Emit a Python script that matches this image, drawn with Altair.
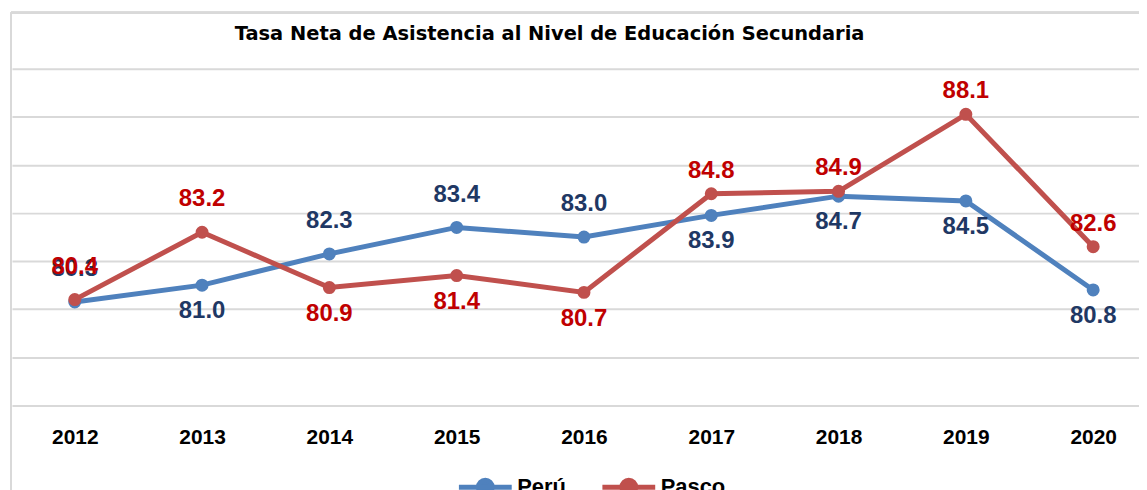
import altair as alt
import pandas as pd

years = ["2012", "2013", "2014", "2015", "2016", "2017", "2018", "2019", "2020"]
peru = [80.3, 81.0, 82.3, 83.4, 83.0, 83.9, 84.7, 84.5, 80.8]
pasco = [80.4, 83.2, 80.9, 81.4, 80.7, 84.8, 84.9, 88.1, 82.6]
series_names = ["Perú", "Pasco"]
line_colors = ["#4F81BD", "#C0504D"]
label_colors = ["#1F3864", "#C00000"]
title_text = "Tasa Neta de Asistencia al Nivel de Educación Secundaria"

df = pd.DataFrame({
    "year": years * 2,
    "value": peru + pasco,
    "serie": [series_names[0]] * len(years) + [series_names[1]] * len(years),
})
df["label"] = df["value"].map(lambda v: f"{v:.1f}")

W, H = 1131, 338
FONT = "Liberation Sans"
GRID = "#D9D9D9"

x = alt.X("year:O", sort=years,
          scale=alt.Scale(type="point", padding=0.4266, align=0.578),
          axis=alt.Axis(title=None, labelAngle=0, labelFont=FONT, labelFontWeight="bold",
                        labelFontSize=21, labelColor="black", labelPadding=21,
                        domain=False, ticks=False, grid=False))
y = alt.Y("value:Q", scale=alt.Scale(domain=[76, 90], nice=False, zero=False),
          axis=alt.Axis(title=None, labels=False, ticks=False, domain=False,
                        values=list(range(76, 91, 2)), gridColor=GRID, gridWidth=2))
legend_path = "M-1,0H1M-0.26,0A0.26,0.26,0,1,1,0.26,0A0.26,0.26,0,1,1,-0.26,0Z"
color = alt.Color("serie:N", scale=alt.Scale(domain=series_names, range=line_colors),
                  legend=alt.Legend(title=None, orient="none", legendX=446, legendY=391,
                                    direction="horizontal", symbolType=legend_path,
                                    symbolSize=2809, symbolStrokeWidth=5,
                                    labelFont=FONT, labelFontSize=22, labelFontWeight="bold",
                                    labelColor="black", labelOffset=3, columnPadding=26))

base = alt.Chart(df)
layers = []
for i, name in enumerate(series_names):
    sel = base.transform_filter(alt.datum.serie == name)
    layers.append(sel.mark_line(strokeWidth=5).encode(x=x, y=y, color=color))
    layers.append(sel.mark_circle(size=170, opacity=1).encode(x=x, y=y, color=color))

# label placement groups: (series, years, dy)
placements = [
    (series_names[0], ["2013", "2017", "2018", "2019", "2020"], 26),
    (series_names[0], ["2012", "2014", "2015", "2016"], -33),
    (series_names[1], ["2014", "2015", "2016"], 27),
    (series_names[1], ["2012", "2013"], -33),
    (series_names[1], ["2017", "2018", "2019", "2020"], -23),
]
for name, yrs, dy in placements:
    i = series_names.index(name)
    cond = "datum.serie == '" + name + "' && indexof(" + str(yrs) + ", datum.year) >= 0"
    layers.append(base.transform_filter(cond).mark_text(
        font=FONT, fontSize=24, fontWeight="bold", color=label_colors[i], dy=dy
    ).encode(x=x, y=y, text="label:N"))

frame_v = alt.Chart(df).mark_rule(color=GRID, strokeWidth=2).encode(
    x=alt.value(-1), y=alt.value(-56), y2=alt.value(700))
frame_h = alt.Chart(df).mark_rule(color=GRID, strokeWidth=2).encode(
    x=alt.value(-1), x2=alt.value(1300), y=alt.value(-56))

chart = alt.layer(frame_v, frame_h, *layers).properties(
    width=W, height=H,
    autosize=alt.AutoSizeParams(type="none"),
    padding={"left": 4, "top": 60, "right": 0, "bottom": 84},
    title=alt.Title(title_text, font="DejaVu Sans", fontSize=19.5, fontWeight="bold", color="black",
                    anchor="middle", frame="group", dx=-26, offset=-33),
    background="white",
).configure_view(stroke=None)

chart.save("out.html", embed_options={"renderer": "svg", "actions": False})
